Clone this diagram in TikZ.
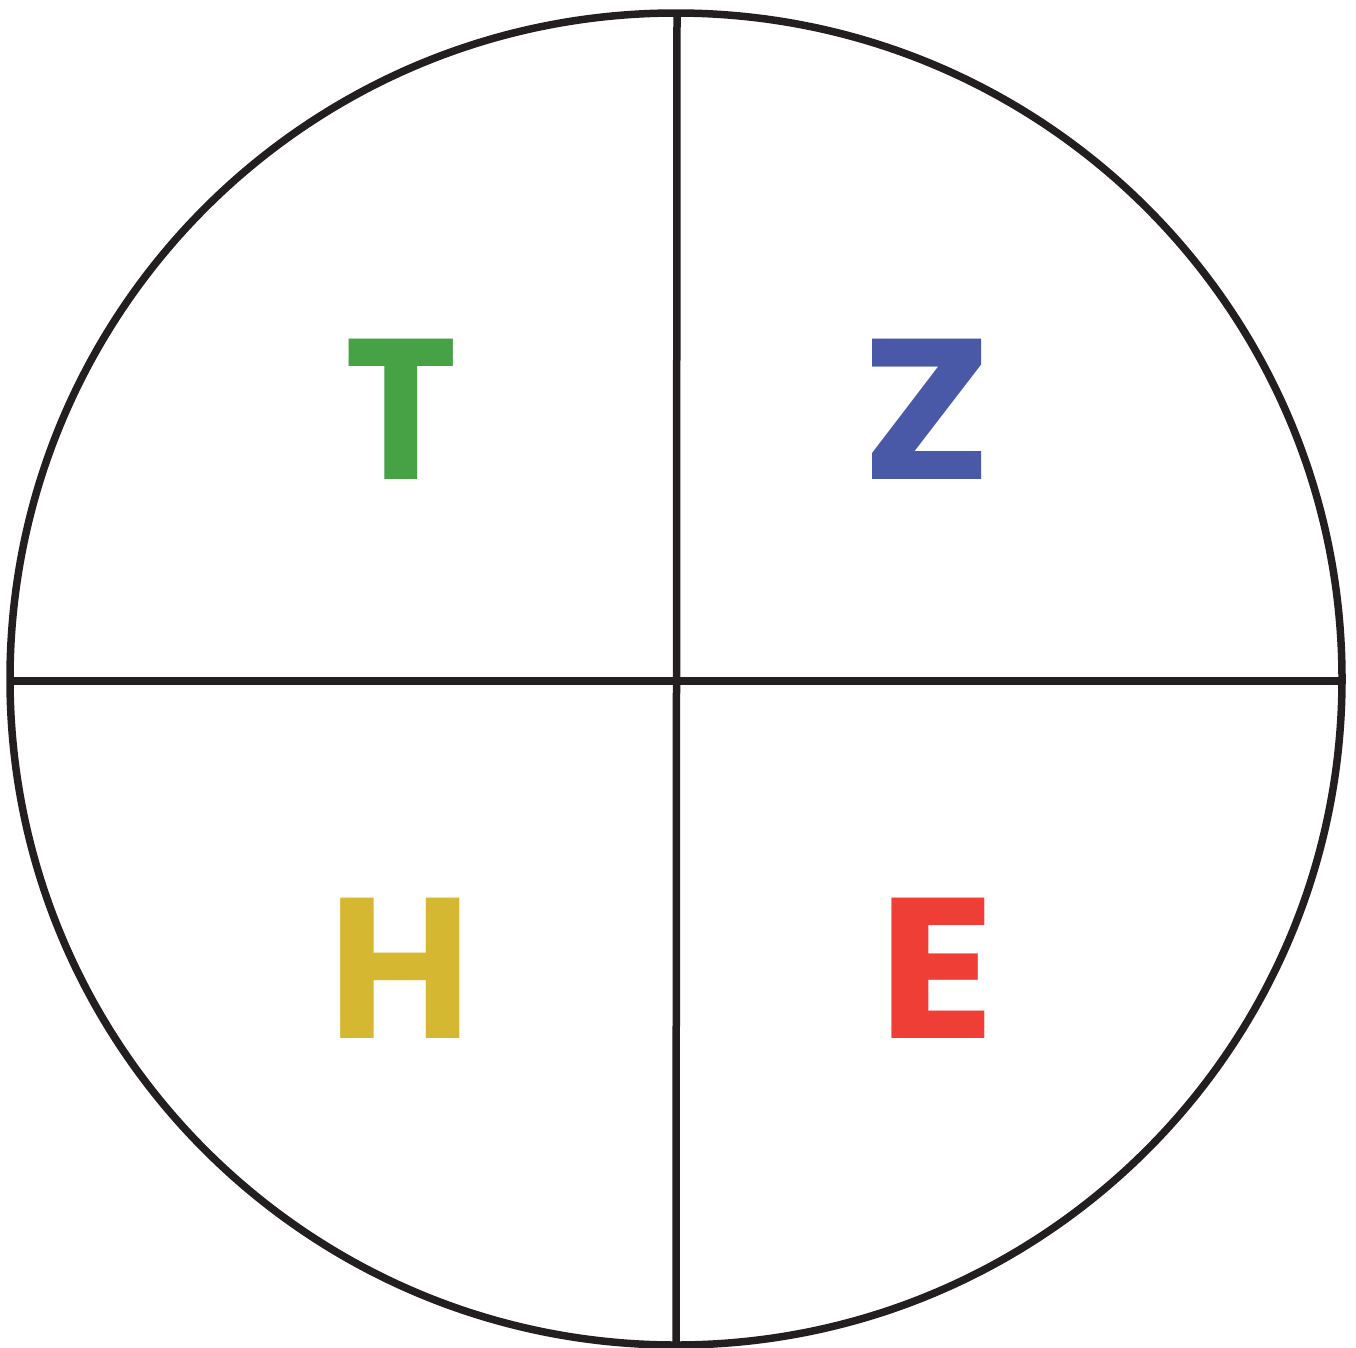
\documentclass[tikz,border=0pt]{standalone}
\usepackage{fontspec}
\usepackage{graphicx}
\setmainfont{Poppins}[UprightFont=* Bold]
\definecolor{tgreen}{HTML}{47A145}
\definecolor{zblue}{HTML}{4A58A8}
\definecolor{hyellow}{HTML}{D5B732}
\definecolor{ered}{HTML}{EF3E36}
\definecolor{ink}{HTML}{231F20}
\begin{document}
\begin{tikzpicture}[x=1pt,y=-1pt,
  letter/.style={anchor=base,inner sep=0pt,font=\fontsize{200}{200}\selectfont},
  rule/.style={draw=ink,line width=7.5pt}]
\useasboundingbox (0,0) rectangle (1356,1347);
\coordinate (c) at (676,679);
\draw[rule] (c) circle[radius=666];
\coordinate (top) at (677,13);
\coordinate (bot) at (676,1345);
\coordinate (lft) at (10,681);
\coordinate (rgt) at (1342,681);
\draw[rule] (top) -- (bot);
\draw[rule] (lft) -- (rgt);
\node[letter,text=tgreen] (T) at (401.5,479) {\scalebox{0.96}[1]{T}};
\node[letter,text=zblue] (Z) at (927.5,479) {\scalebox{1.1}[1]{Z}};
\node[letter,text=hyellow] (H) at (400,1038) {\scalebox{0.98}[1]{H}};
\node[letter,text=ered] (E) at (936.5,1038) {\scalebox{1.08}[1]{E}};
\end{tikzpicture}
\end{document}
